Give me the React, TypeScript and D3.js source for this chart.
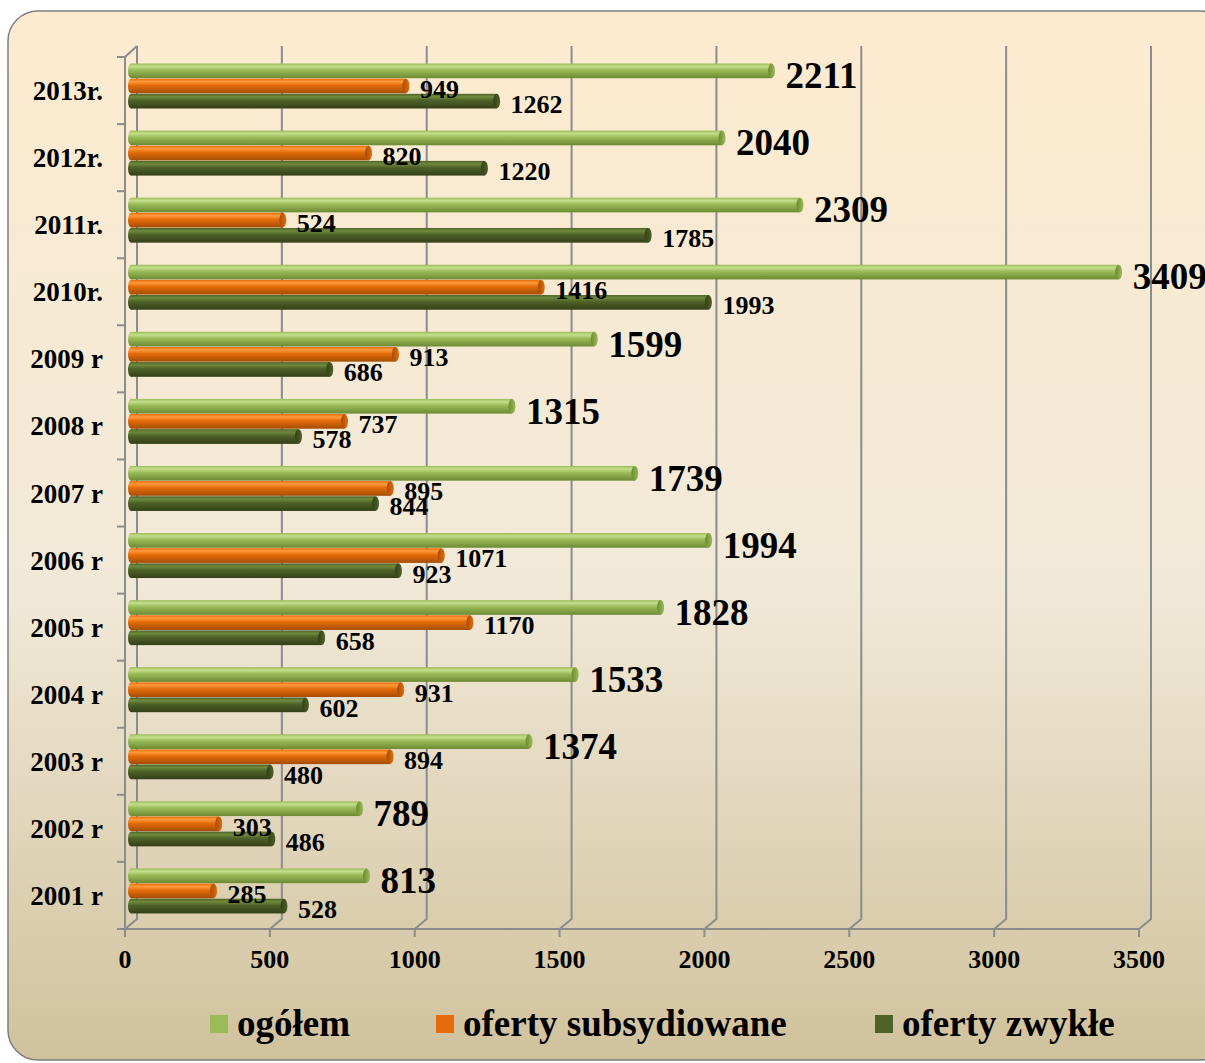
import * as d3 from 'd3';

// years from top to bottom, as in the chart
const categories = ['2013r.', '2012r.', '2011r.', '2010r.', '2009 r', '2008 r', '2007 r', '2006 r', '2005 r', '2004 r', '2003 r', '2002 r', '2001 r'];
const ogolem = [2211, 2040, 2309, 3409, 1599, 1315, 1739, 1994, 1828, 1533, 1374, 789, 813];
const subsydiowane = [949, 820, 524, 1416, 913, 737, 895, 1071, 1170, 931, 894, 303, 285];
const zwykle = [1262, 1220, 1785, 1993, 686, 578, 844, 923, 658, 602, 480, 486, 528];
const xTicks = [0, 500, 1000, 1500, 2000, 2500, 3000, 3500];

const SERIES = [
  { key: 'ogolem', name: 'ogółem', values: ogolem, light: '#c4df8c', base: '#9bbb59', dark: '#6c8a32', big: true },
  { key: 'subs', name: 'oferty subsydiowane', values: subsydiowane, light: '#ff9a3c', base: '#e46c0a', dark: '#a44d05', big: false },
  { key: 'zwykle', name: 'oferty zwykłe', values: zwykle, light: '#6f8a3c', base: '#4f6228', dark: '#334018', big: false },
];

const FONT = '"Liberation Serif", "Times New Roman", serif';
const GRID = '#8c8c8c';
const DEPTH_X = 12;
const DEPTH_Y = 10;

export default function App() {
  const width = 1205;
  const height = 1063;

  const plotTop = 57;
  const plotBottom = 929;
  const x = d3.scaleLinear().domain([0, 3500]).range([125, 1139]);
  const xBar = d3.scaleLinear().domain([0, 3500]).range([131, 1145]);
  const y = d3.scaleBand<string>().domain(categories).range([plotTop, plotBottom]).padding(0);
  const sub = d3.scaleBand<string>().domain(SERIES.map((s) => s.key)).range([6.5, 51.5]).paddingInner(0.03);
  const bh = sub.bandwidth();

  const legendX = [210, 436, 875];

  return (
    <svg width={width} height={height} style={{ position: 'absolute', left: 0, top: 0 }}>
      <defs>
        <linearGradient id="bg" x1="0" y1="0" x2="0" y2="1">
          <stop offset="0%" stopColor="#fdebcf" />
          <stop offset="55%" stopColor="#f1e9d8" />
          <stop offset="100%" stopColor="#d1c29d" />
        </linearGradient>
        {SERIES.map((s) => (
          <linearGradient key={s.key} id={`g-${s.key}`} x1="0" y1="0" x2="0" y2="1">
            <stop offset="0%" stopColor={s.base} />
            <stop offset="20%" stopColor={s.light} />
            <stop offset="45%" stopColor={s.base} />
            <stop offset="100%" stopColor={s.dark} />
          </linearGradient>
        ))}
        {SERIES.map((s) => (
          <linearGradient key={s.key} id={`c-${s.key}`} x1="0" y1="0" x2="1" y2="0">
            <stop offset="0%" stopColor={s.dark} />
            <stop offset="100%" stopColor={s.base} />
          </linearGradient>
        ))}
      </defs>

      <rect x={8} y={11} width={1222} height={1049} rx={30} ry={30} fill="url(#bg)" stroke="#7f7f7f" strokeWidth={1.5} />

      {/* back wall gridlines with 3D floor slant */}
      {xTicks.map((t) => (
        <path
          key={`g${t}`}
          d={`M${x(t) + DEPTH_X},${plotTop - DEPTH_Y - 1}V${plotBottom - DEPTH_Y}L${x(t)},${plotBottom}`}
          fill="none"
          stroke={GRID}
          strokeWidth={2}
        />
      ))}
      {/* left wall front edge */}
      <path d={`M${x(0) + DEPTH_X},${plotTop - DEPTH_Y - 1}L${x(0)},${plotTop}V${plotBottom}H${x(3500)}`} fill="none" stroke={GRID} strokeWidth={2} />
      {/* category ticks */}
      {[...categories.map((c) => y(c)!), plotBottom].map((ty, i) => (
        <line key={`ty${i}`} x1={x(0) - 8} x2={x(0)} y1={ty} y2={ty} stroke={GRID} strokeWidth={2} />
      ))}
      {/* value ticks */}
      {xTicks.map((t) => (
        <line key={`tx${t}`} x1={x(t)} x2={x(t)} y1={plotBottom} y2={plotBottom + 8} stroke={GRID} strokeWidth={2} />
      ))}

      {/* bars */}
      {categories.map((c, i) => (
        <g key={c}>
          {SERIES.map((s) => {
            const v = s.values[i];
            const top = y(c)! + sub(s.key)!;
            const x0 = xBar(0);
            const x1 = xBar(v);
            return (
              <g key={s.key}>
                <ellipse cx={x0} cy={top + bh / 2} rx={3} ry={bh / 2} fill={`url(#g-${s.key})`} />
                <rect x={x0} y={top} width={x1 - x0} height={bh} fill={`url(#g-${s.key})`} />
                <ellipse cx={x1} cy={top + bh / 2} rx={3.5} ry={bh / 2} fill={`url(#c-${s.key})`} />
              </g>
            );
          })}
        </g>
      ))}

      {/* data labels */}
      {categories.map((c, i) => (
        <g key={`l${c}`} fontFamily={FONT} fontWeight="bold" fill="#000">
          {SERIES.map((s) => {
            const v = s.values[i];
            const top = y(c)! + sub(s.key)!;
            return (
              <text key={s.key} x={xBar(v) + 14} y={top + bh + (s.big ? 10 : 4.5)} fontSize={s.big ? 37 : 26}>
                {v}
              </text>
            );
          })}
        </g>
      ))}

      {/* category labels */}
      {categories.map((c) => (
        <text
          key={`c${c}`}
          x={103}
          y={y(c)! + y.bandwidth() / 2 + 9.5}
          textAnchor="end"
          fontFamily={FONT}
          fontWeight="bold"
          fontSize={27}
        >
          {c}
        </text>
      ))}

      {/* x axis labels */}
      {xTicks.map((t) => (
        <text key={`xl${t}`} x={x(t)} y={968} textAnchor="middle" fontFamily={FONT} fontWeight="bold" fontSize={26}>
          {t}
        </text>
      ))}

      {/* legend */}
      {SERIES.map((s, i) => (
        <g key={`lg${s.key}`}>
          <rect x={legendX[i]} y={1015} width={18} height={18} fill={s.base} />
          <text x={legendX[i] + 27} y={1036} fontFamily={FONT} fontWeight="bold" fontSize={37}>
            {s.name}
          </text>
        </g>
      ))}
    </svg>
  );
}
